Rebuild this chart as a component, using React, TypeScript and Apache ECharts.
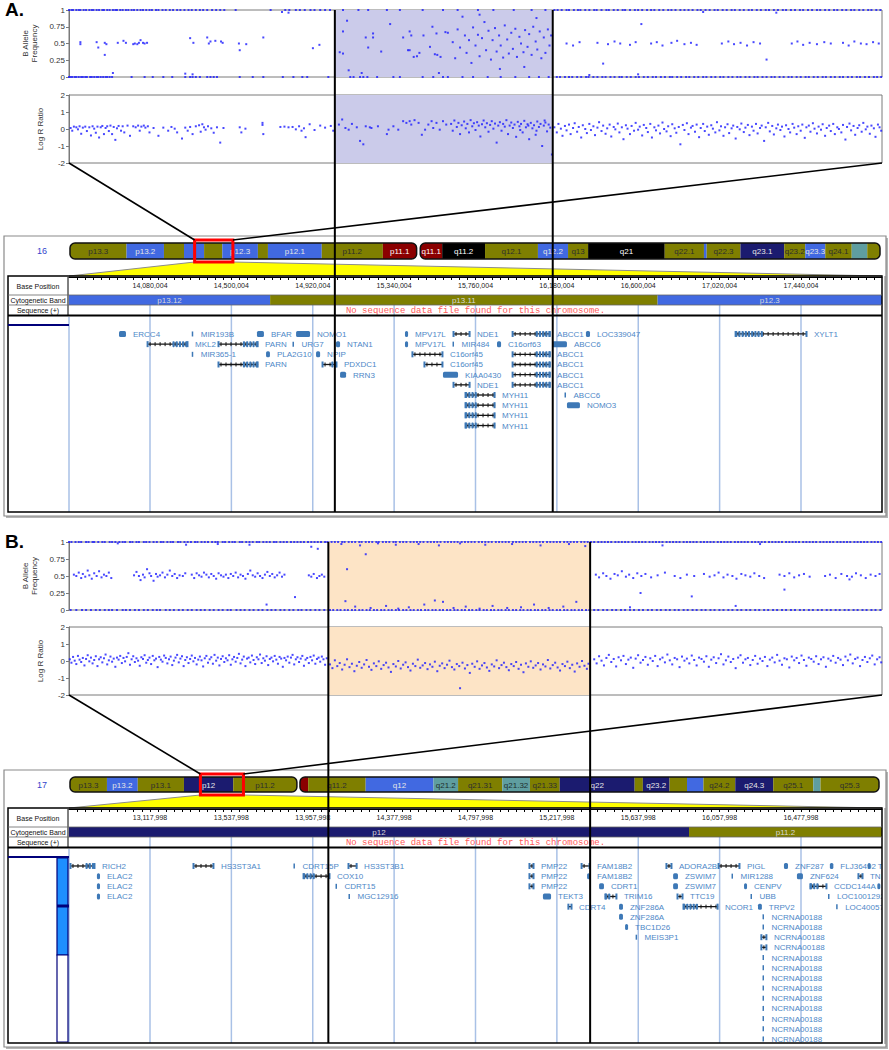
import React, { useEffect, useRef } from 'react';
import * as echarts from 'echarts';

const FONT = "'Liberation Sans', Arial, sans-serif";
const MONO = "'Liberation Mono', 'Courier New', monospace";

// ================= Panel A : chromosome 16 =================
// x positions are per-mille of the plotted window (0..1000)
const shadeA = [327, 595];
const bafA_at1 = [0,3,5,9,12,14,18,21,25,28,30,34,37,41,43,47,50,54,57,59,63,66,70,73,77,80,84,88,91,95,99,102,107,110,115,119,124,128,133,137,142,147,151,156,161,165,170,176,181,186,191,205,248,266,271,279,284,290,297,302,309,315,321,
  337,356,368,391,407,435,460,478,503,522,547,569,586,
  597,601,606,612,615,621,626,629,635,640,646,649,655,661,664,670,675,681,684,690,696,700,705,711,716,720,726,731,737,741,746,752,757,762,767,773,777,783,788,794,798,804,809,815,819,825,830,836,840,846,851,857,861,867,872,878,882,888,893,899,903,909,914,920,924,930,935,941,945,951,956,962,966,972,977,983,987,993,998];
const bafA_at0 = [0,2,4,7,9,12,15,17,20,22,26,28,31,34,36,39,42,45,47,50,53,77,93,103,116,127,143,149,152,156,161,170,174,178,182,210,226,239,263,276,287,293,319,
  346,350,358,362,367,379,399,407,435,448,460,466,484,497,515,531,549,566,578,590,
  600,604,610,615,619,625,630,636,639,645,650,656,660,666,671,677,680,686,691,697,701,707,712,718,722,728,733,739,742,748,753,759,763,769,774,780,784,790,795,801,805,811,816,822,826,832,837,843,847,853,858,864,868,874,879,885,889,895,900,906,910,916,921,927,931,937,942,948,952,958,963,969,973,979,984,990,994,999];
const bafA_other = [[14,0.52],[14,0.49],[34,0.52],[36,0.44],[44,0.51],[44,0.33],[46,0.49],[60,0.51],[67,0.54],[70,0.51],[79,0.49],[81,0.5],[84,0.49],[86,0.51],[88,0.55],[91,0.51],[93,0.5],[96,0.51],[149,0.58],[153,0.51],[170,0.59],[172,0.5],[174,0.53],[180,0.54],[187,0.53],[189,0.51],[209,0.5],[210,0.4],[218,0.49],[239,0.59],[300,0.43],[308,0.48],[54,0.06],[143,0.05],[152,0.04],[262,0.97],[270,0.96],
  [333,0.37],[337,0.35],[337,0.68],[342,0.84],[344,0.1],[360,0.06],[365,0.59],[368,0.44],[374,0.65],[374,0.59],[384,0.38],[395,0.79],[411,0.59],[417,0.4],[419,0.4],[419,0.68],[421,0.62],[424,0.3],[428,0.31],[431,0.36],[436,0.62],[444,0.45],[447,0.75],[450,0.34],[453,0.33],[452,0.65],[455,0.06],[457,0.3],[463,0.67],[466,0.66],
  [472,0.52],[475,0.28],[478,0.71],[481,0.44],[484,0.9],[487,0.62],[489,0.36],[492,0.55],[495,0.21],[497,0.74],[500,0.47],[503,0.63],[505,0.31],[508,0.58],[511,0.82],[513,0.4],[516,0.69],[519,0.26],[521,0.55],[524,0.73],[526,0.38],[529,0.62],[531,0.47],[534,0.29],[536,0.77],[539,0.56],[541,0.35],[544,0.66],[546,0.42],[549,0.72],[551,0.3],[554,0.6],[556,0.5],[559,0.37],[561,0.7],[564,0.45],[566,0.64],[569,0.33],[571,0.75],[574,0.53],[576,0.41],[579,0.68],[581,0.28],[584,0.59],[586,0.36],[589,0.71],[591,0.47],[593,0.62],[560,0.15],[530,0.12],[575,0.88],[505,0.93],
  [612,0.5],[620,0.47],[628,0.52],[650,0.51],[657,0.2],[663,0.49],[671,0.53],[678,0.5],[690,0.48],[697,0.52],[704,0.79],[716,0.5],[723,0.52],[730,0.47],[741,0.51],[748,0.54],[757,0.49],[765,0.51],[772,0.48],[803,0.5],[811,0.53],[818,0.49],[826,0.51],[834,0.47],[842,0.52],[850,0.5],[858,0.26],[889,0.5],[896,0.53],[903,0.48],[911,0.51],[920,0.49],[929,0.52],[937,0.5],[952,0.51],[959,0.47],[966,0.53],[974,0.5],[981,0.49],[989,0.52],[996,0.5],[640,0.03],[700,0.04],[780,0.97],[870,0.96]];
const lrrA = [[2,0.06],[4,-0.1],[6,0.14],[9,0.1],[11,-0.02],[13,0.16],[15,-0.28],[17,0.08],[20,0.14],[22,-0.12],[25,0.1],[27,-0.38],[29,0.16],[31,0.02],[33,-0.22],[35,0.14],[37,-0.5],[39,0.1],[41,0.18],[43,-0.3],[45,0.06],[47,0.16],[49,-0.12],[51,0.2],[53,-0.3],[55,0.12],[57,-0.64],[59,0.04],[61,0.18],[64,-0.1],[66,0.16],[68,-0.2],[72,0.2],[75,-0.4],[79,0.16],[82,0.1],[85,0.2],[87,-0.1],[89,0.14],[92,0.2],[94,0.08],[97,0.16],[99,-0.2],[104,0.06],[110,-0.4],[116,0.08],[122,-0.1],[126,0.12],[130,0.02],[133,-0.2],[139,-0.56],[143,0.08],[146,-0.1],[149,0.12],[152,-0.3],[156,0.16],[160,0.22],[162,-0.16],[164,0.28],[166,0.1],[168,-0.04],[171,0.16],[175,0.04],[178,-0.22],[182,0.1],[186,-0.8],[190,0.06],[210,0.1],[212,-0.2],[217,0.02],[238,0.24],[238,0.36],[239,-0.3],[260,0.12],[265,0.14],[270,0.1],[275,0.12],[279,-0.02],[283,0.16],[286,-0.1],[289,0.04],[291,-0.48],[296,0.28],[302,-0.06],[309,0.2],[315,0.08],[322,0.18],[325,-0.1],
  [332,0.26],[336,0.56],[340,0.06],[344,-0.04],[348,0.3],[354,0.1],[358,-0.7],[362,-0.9],[365,0.16],[370,0.1],[372,0.06],[380,0.16],[391,-0.3],[393,-0.04],[399,0.16],[405,-0.04],[411,0.46],[415,0.36],[419,0.46],[421,0.26],[425,0.52],[430,0.36],[434,-0.34],[438,-0.04],[442,0.26],[446,0.46],[448,0.06],[452,0.36],[456,-0.04],[460,0.46],[464,0.26],
  [470,0.3],[472,-0.1],[474,0.5],[477,0.12],[479,0.36],[481,-0.3],[483,0.22],[486,0.44],[488,0.04],[490,0.3],[492,-0.2],[494,0.52],[496,0.16],[498,0.34],[500,-0.06],[502,0.4],[504,0.2],[506,-0.44],[508,0.28],[510,0.5],[512,0.1],[514,0.34],[516,-0.16],[518,0.24],[520,0.46],[522,0.02],[524,0.32],[526,-0.8],[528,0.2],[530,0.4],[532,-0.1],[534,0.3],[536,0.14],[538,0.52],[540,-0.3],[542,0.2],[544,0.38],[546,0.06],[548,0.26],[550,-0.46],[552,0.42],[554,0.16],[556,0.3],[558,-0.2],[560,0.48],[562,0.1],[564,0.28],[566,-0.6],[568,0.36],[570,0.04],[572,0.22],[574,-0.34],[576,0.44],[578,0.12],[580,0.3],[582,-1.0],[584,0.2],[586,0.38],[588,-0.14],[590,0.26],[592,0.08],[594,-1.5],[585,0.5],[575,-0.1],[565,0.2],[555,-0.06],
  [597,0.1],[600,-0.2],[602,0.3],[605,0.02],[607,-0.4],[610,0.18],[612,-0.08],[615,0.26],[617,-0.3],[620,0.06],[622,0.34],[625,-0.16],[627,0.12],[630,-0.5],[632,0.22],[635,0.0],[637,-0.24],[640,0.3],[642,-0.06],[645,0.16],[647,-0.36],[650,0.08],[652,0.4],[655,-0.12],[657,0.2],[660,-0.28],[662,0.04],[665,0.26],[667,-0.44],[670,0.12],[672,-0.02],[675,0.32],[677,-0.2],[680,0.1],[682,-0.6],[685,0.22],[687,0.02],[690,-0.3],[692,0.18],[695,-0.1],[697,0.36],[700,-0.04],[702,0.14],[705,-0.38],[707,0.24],[710,0.06],[712,-0.18],[715,0.3],[717,-0.5],[720,0.1],[722,-0.08],[725,0.2],[727,-0.26],[730,0.38],[732,0.0],[735,-0.14],[737,0.16],[740,-0.42],[742,0.28],[745,0.04],[747,-0.22],[750,0.12],[752,-0.9],[755,0.24],[757,-0.06],[760,0.34],[762,-0.3],[765,0.08],[767,0.18],[770,-0.16],[772,0.26],[775,-0.48],[777,0.06],[780,0.3],[782,-0.12],[785,0.14],[787,-0.34],[790,0.22],[792,0.02],[795,-0.2],[797,0.4],[800,-0.08],[802,0.16],[805,-0.4],[807,0.1],[810,0.28],[812,-0.24],[815,0.04],[817,0.2],[820,-0.56],[822,0.12],[825,-0.02],[827,0.32],[830,-0.18],[832,0.08],[835,0.24],[837,-0.36],[840,0.14],[842,-0.1],[845,0.3],[847,-0.26],[850,0.06],[852,0.2],[855,-0.7],[857,0.1],[860,0.36],[862,-0.14],[865,0.18],[867,-0.32],[870,0.04],[872,0.26],[875,-0.06],[877,0.14],[880,-0.44],[882,0.22],[885,0.0],[887,-0.2],[890,0.3],[892,0.08],[895,-0.3],[897,0.16],[900,-0.1],[902,0.26],[905,-0.52],[907,0.1],[910,0.2],[912,-0.16],[915,0.34],[917,0.02],[920,-0.26],[922,0.14],[925,-0.04],[927,0.28],[930,-0.4],[932,0.06],[935,0.2],[937,-0.12],[940,0.3],[942,-0.3],[945,0.1],[947,0.0],[950,-0.2],[952,0.24],[955,-0.62],[957,0.12],[960,0.32],[962,-0.08],[965,0.18],[967,-0.34],[970,0.06],[972,0.22],[975,-0.16],[977,0.36],[980,-0.02],[982,0.14],[985,-0.28],[987,0.2],[990,0.04],[992,-0.46],[995,0.26],[997,0.1],[999,-0.1]];

const chr16Length = 88.8; // Mb
const chr16Centromere = [38.0, 38.4];
// [startMb, endMb, stain, name, showNameOnIdeogram]
const chr16Bands = [
  [0, 6.2, 'o', 'p13.3', 1], [6.2, 10.3, 'b', 'p13.2', 1], [10.3, 12.5, 'o', 'p13.13', 0], [12.5, 14.7, 'b', 'p13.12', 0],
  [14.7, 16.7, 'o', 'p13.11', 0], [16.7, 20.6, 'b', 'p12.3', 1], [20.6, 21.7, 'o', 'p12.2', 0], [21.7, 27.6, 'b', 'p12.1', 1],
  [27.6, 34.3, 'o', 'p11.2', 1], [34.3, 38.0, 'r', 'p11.1', 1], [38.4, 40.8, 'r', 'q11.1', 1], [40.8, 45.5, 'k', 'q11.2', 1],
  [45.5, 51.3, 'o', 'q12.1', 1], [51.3, 54.6, 'b', 'q12.2', 1], [54.6, 56.8, 'o', 'q13', 1], [56.8, 65.2, 'k', 'q21', 1],
  [65.2, 69.5, 'o', 'q22.1', 1], [69.5, 69.8, 'b', 'q22.2', 0], [69.8, 73.5, 'o', 'q22.3', 1], [73.5, 78.3, 'n', 'q23.1', 1],
  [78.3, 80.6, 'o', 'q23.2', 1], [80.6, 82.8, 'b', 'q23.3', 1], [82.8, 85.7, 'o', 'q24.1', 1], [85.7, 87.4, 't', 'q24.2', 0],
  [87.4, 88.8, 'o', 'q24.3', 0],
];
const windowA = [13661931, 17858077]; // bp
const ticksA = [14080004, 14500004, 14920004, 15340004, 15760004, 16180004, 16600004, 17020004, 17440004];
// [label, startKb, endKb, rows, glyph]
const genesA = [
  ['ERCC4', 13920, 13956, [0], 'b'], ['MIR193B', 14298, 14301, [0], 't'], ['BFAR', 14632, 14668, [0], 'b'], ['NOMO1', 14834, 14906, [0], 'b'],
  ['MKL2', 14065, 14276, [1], 'R'], ['PARN', 14431, 14638, [1, 3], 'R'], ['URG7', 14818, 14822, [1], 't'], ['NTAN1', 15040, 15061, [1], 'b'],
  ['MIR365-1', 14298, 14301, [2], 't'], ['PLA2G10', 14679, 14699, [2], 'b'], ['NPIP', 14937, 14958, [2], 'b'], ['PDXDC1', 14968, 15045, [3], 'R'],
  ['RRN3', 15061, 15092, [4], 'b'], ['MPV17L', 15396, 15412, [0, 1], 'b'], ['C16orf45', 15432, 15592, [2], 'l'], ['C16orf45', 15494, 15592, [3], 'l'],
  ['KIAA0430', 15592, 15670, [4], 'b'], ['NDE1', 15644, 15732, [0, 5], 'l'], ['MIR484', 15644, 15648, [1], 't'], ['C16orf63', 15871, 15892, [1], 'b'],
  ['ABCC1', 15949, 16145, [0, 2, 3, 4, 5], 'R'], ['LOC339047', 16330, 16351, [0], 'b'], ['ABCC6', 16155, 16232, [1], 'b'],
  ['MYH11', 15706, 15861, [6, 7, 8, 9], 'L'], ['ABCC6', 16222, 16226, [6], 't'], ['NOMO3', 16232, 16299, [7], 'b'], ['XYLT1', 17100, 17471, [0], 'L'],
];

// ================= Panel B : chromosome 17 =================
const shadeB = [319, 641];
const bafB_at1 = [0,3,8,12,15,21,24,29,31,36,41,44,50,53,57,62,66,69,75,78,83,86,92,95,99,104,108,113,116,121,125,128,134,137,142,146,150,155,158,163,167,171,176,180,183,189,192,197,201,204,210,213,218,222,226,231,234,239,243,247,252,255,260,264,268,273,277,281,285,289,294,298,302,306,310,315,318,323,327,331,336,339,344,348,352,357,360,365,369,373,378,381,386,390,394,399,402,407,411,415,420,424,428,432,436,441,445,449,453,457,462,466,470,474,478,483,487,491,495,499,504,508,512,516,520,525,529,533,537,541,546,550,554,558,562,567,571,575,579,583,588,592,596,600,604,609,613,617,621,625,630,634,638,642,646,651,655,659,663,667,672,676,680,684,688,693,697,701,705,709,714,718,722,726,730,735,739,743,747,751,756,760,764,768,772,777,781,785,789,793,798,802,806,810,814,819,823,827,831,835,840,844,848,852,856,861,865,869,873,877,882,886,890,894,898,903,907,911,915,919,924,928,932,936,940,945,949,953,957,961,966,970,974,978,982,987,991,995,999];
const bafB_at0 = [2,9,16,21,27,33,38,44,49,53,59,66,70,75,81,86,92,97,103,108,112,119,124,129,135,140,146,151,157,162,167,173,178,184,189,195,199,206,211,216,222,227,233,238,244,249,254,260,265,271,276,282,286,292,297,303,308,314,
  321,325,330,334,339,343,348,352,357,361,366,370,375,379,384,388,393,397,402,406,411,415,420,424,429,433,438,442,447,451,456,460,465,469,474,478,483,487,492,496,501,505,510,514,519,523,528,532,537,541,546,550,555,559,564,568,573,577,582,586,591,595,600,604,609,613,618,622,627,631,636,640,
  646,651,657,662,668,673,679,684,690,695,701,706,712,717,723,728,734,739,745,750,756,761,767,772,778,783,789,794,800,805,811,816,822,827,833,838,844,849,855,860,866,871,877,882,888,893,899,904,910,915,921,926,932,937,943,948,954,959,965,970,976,981,987,992,998];
const bafB_other = [[6,0.52],[9,0.5],[12,0.55],[15,0.47],[17,0.53],[20,0.49],[23,0.58],[25,0.51],[28,0.46],[31,0.54],[34,0.5],[37,0.57],[40,0.48],[43,0.52],[46,0.5],[49,0.55],[52,0.47],
  [80,0.51],[83,0.56],[86,0.5],[88,0.44],[91,0.52],[93,0.48],[96,0.6],[99,0.54],[101,0.5],[104,0.43],[107,0.53],[109,0.49],[112,0.51],[115,0.55],[118,0.48],[121,0.52],[124,0.58],[127,0.5],[130,0.53],[133,0.47],[136,0.51],[140,0.5],[143,0.54],
  [151,0.52],[154,0.47],[157,0.54],[160,0.51],[163,0.49],[166,0.55],[169,0.52],[172,0.48],[175,0.53],[178,0.5],[181,0.46],[184,0.54],[187,0.51],[190,0.49],[193,0.52],[196,0.47],[199,0.53],[202,0.5],[205,0.55],[208,0.48],[211,0.52],[214,0.5],[217,0.46],[220,0.53],[223,0.58],[226,0.51],[229,0.49],[232,0.54],[235,0.5],[238,0.47],[241,0.52],[244,0.56],[247,0.5],[250,0.53],[253,0.48],[256,0.51],[259,0.55],[262,0.49],[265,0.52],
  [295,0.51],[298,0.49],[301,0.53],[305,0.47],[308,0.5],[311,0.52],[314,0.49],
  [278,0.19],[243,0.08],[298,0.93],[306,0.9],[144,0.96],[60,0.98],[183,0.97],[222,0.96],
  [342,0.6],[340,0.13],[365,0.82],[352,0.05],[371,0.03],[390,0.06],[405,0.02],[418,0.04],[437,0.08],[450,0.14],[460,0.12],[473,0.03],[488,0.05],[505,0.02],[521,0.06],[539,0.03],[556,0.04],[572,0.08],[590,0.03],[608,0.05],[624,0.12],[335,0.97],[358,0.95],[380,0.98],[402,0.96],[430,0.97],[455,0.95],[481,0.98],[512,0.96],[545,0.97],[580,0.95],[615,0.97],[635,0.94],
  [648,0.52],[652,0.48],[657,0.54],[661,0.5],[666,0.46],[671,0.53],[675,0.51],[680,0.57],[685,0.49],[689,0.52],[694,0.47],[699,0.54],[704,0.5],[709,0.53],[716,0.48],[724,0.51],[733,0.55],[745,0.5],[752,0.47],[760,0.52],[769,0.5],[781,0.53],[788,0.49],[794,0.51],[799,0.55],[805,0.48],[810,0.52],[816,0.5],[821,0.46],[827,0.53],[832,0.51],[838,0.49],[843,0.54],[849,0.5],[855,0.47],[874,0.52],[880,0.5],[886,0.54],[892,0.48],[898,0.51],[904,0.53],[911,0.49],[930,0.5],[936,0.52],[943,0.47],[950,0.53],[957,0.5],[963,0.49],[968,0.54],[974,0.51],[980,0.47],[986,0.52],[992,0.5],[997,0.53],
  [703,0.25],[766,0.2],[880,0.3],[960,0.45],[730,0.95],[850,0.97],[690,0.04],[820,0.06]];
const lrrB = [[1,0.1],[3,-0.1],[5,0.24],[7,0.02],[9,-0.18],[11,0.3],[13,0.08],[15,-0.06],[17,0.18],[19,-0.26],[21,0.12],[23,0.34],[25,-0.02],[27,0.2],[29,-0.14],[31,0.06],[33,0.28],[35,-0.3],[37,0.1],[39,0.22],[41,-0.08],[43,0.16],[45,0.38],[47,-0.2],[49,0.04],[51,0.26],[53,-0.04],[55,0.14],[57,-0.34],[59,0.2],[61,0.08],[63,0.3],[65,-0.12],[67,0.18],[69,-0.02],[71,0.24],[73,0.46],[75,-0.22],[77,0.1],[79,0.28],[81,-0.06],[83,0.16],[85,0.02],[87,-0.28],[89,0.22],[91,0.12],[93,0.34],[95,-0.1],[97,0.06],[99,0.2],[101,-0.18],[103,0.3],[105,0.04],[107,0.14],[109,-0.36],[111,0.24],[113,0.08],[115,-0.04],[117,0.32],[119,0.18],[121,-0.14],[123,0.1],[125,0.26],[127,-0.24],[129,0.02],[131,0.2],[133,0.36],[135,-0.08],[137,0.14],[139,0.28],[141,-0.3],[143,0.06],[145,0.22],[147,-0.12],[149,0.12],[151,0.32],[153,-0.02],[155,0.18],[157,-0.2],[159,0.08],[161,0.26],[163,0.04],[165,-0.32],[167,0.16],[169,0.3],[171,-0.1],[173,0.1],[175,0.22],[177,-0.16],[179,0.36],[181,0.02],[183,0.2],[185,-0.26],[187,0.12],[189,0.28],[191,-0.06],[193,0.16],[195,0.04],[197,0.34],[199,-0.22],[201,0.1],[203,0.24],[205,-0.04],[207,0.18],[209,0.42],[211,-0.14],[213,0.08],[215,0.26],[217,-0.3],[219,0.14],[221,0.2],[223,-0.08],[225,0.32],[227,0.06],[229,-0.18],[231,0.22],[233,0.1],[235,0.38],[237,-0.12],[239,0.16],[241,0.02],[243,0.28],[245,-0.24],[247,0.12],[249,0.2],[251,-0.02],[253,0.3],[255,0.08],[257,-0.16],[259,0.24],[261,0.14],[263,-0.34],[265,0.18],[267,0.04],[269,0.26],[271,-0.1],[273,0.2],[275,0.36],[277,-0.2],[279,0.1],[281,0.22],[283,-0.06],[285,0.14],[287,0.3],[289,-0.28],[291,0.08],[293,0.18],[295,-0.12],[297,0.24],[299,0.04],[301,0.32],[303,-0.16],[305,0.12],[307,0.2],[309,-0.04],[311,0.26],[313,0.1],[315,-0.22],[317,0.16],
  [321,-0.2],[324,-0.42],[327,0.04],[330,-0.3],[333,-0.12],[336,-0.5],[339,-0.22],[342,0.1],[345,-0.36],[348,-0.16],[351,-0.6],[354,-0.28],[357,-0.06],[360,-0.4],[363,-0.2],[366,0.06],[369,-0.34],[372,-0.52],[375,-0.14],[378,-0.3],[381,-0.02],[384,-0.46],[387,-0.24],[390,-0.1],[393,-0.38],[396,-0.64],[399,-0.18],[402,-0.32],[405,0.0],[408,-0.44],[411,-0.22],[414,-0.08],[417,-0.36],[420,-0.56],[423,-0.16],[426,-0.3],[429,0.08],[432,-0.4],[435,-0.26],[438,-0.12],[441,-0.48],[444,-0.2],[447,-0.34],[450,-0.04],[453,-0.6],[456,-0.28],[459,-0.14],[462,-0.42],[465,-0.22],[468,0.02],[471,-0.36],[474,-0.5],[477,-0.18],[480,-0.3],[481,-1.6],[484,-0.1],[487,-0.44],[490,-0.24],[493,-0.7],[496,-0.16],[499,-0.34],[502,-0.02],[505,-0.46],[508,-0.26],[511,-0.12],[514,-0.38],[517,-0.58],[520,-0.2],[523,-0.32],[526,0.04],[529,-0.42],[532,-0.24],[535,-0.1],[538,-0.36],[541,-0.54],[544,-0.18],[547,-0.3],[550,-0.06],[553,-0.46],[556,-0.22],[559,-0.66],[562,-0.14],[565,-0.34],[568,-0.02],[571,-0.4],[574,-0.26],[577,-0.12],[580,-0.5],[583,-0.2],[586,-0.32],[589,0.06],[592,-0.44],[595,-0.24],[598,-0.1],[601,-0.38],[604,-0.56],[607,-0.18],[610,-0.3],[613,-0.04],[616,-0.42],[619,-0.22],[622,-0.62],[625,-0.14],[628,-0.34],[631,0.0],[634,-0.28],[637,-0.46],[639,-0.16],
  [646,0.1],[649,-0.14],[652,0.28],[655,0.02],[658,-0.26],[661,0.18],[664,0.36],[667,-0.06],[670,0.12],[673,-0.32],[676,0.22],[679,0.04],[682,0.3],[685,-0.18],[688,0.08],[691,0.2],[694,-0.4],[697,0.14],[700,0.34],[703,-0.1],[706,0.06],[709,0.24],[712,-0.22],[715,0.16],[718,0.0],[721,0.3],[724,-0.3],[727,0.1],[730,0.2],[733,-0.08],[736,0.38],[739,0.04],[742,-0.2],[745,0.18],[748,0.1],[751,-0.36],[754,0.26],[757,0.02],[760,0.14],[763,-0.14],[766,0.32],[769,0.06],[772,-0.26],[775,0.2],[778,0.12],[781,-0.04],[784,0.28],[787,-0.34],[790,0.08],[793,0.22],[796,-0.12],[799,0.16],[802,0.4],[805,-0.2],[808,0.04],[811,0.26],[814,-0.06],[817,0.12],[820,-0.42],[823,0.2],[826,0.34],[829,-0.1],[832,0.1],[835,0.18],[838,-0.24],[841,0.06],[844,0.3],[847,-0.16],[850,0.14],[853,0.0],[856,0.24],[859,-0.3],[862,0.08],[865,0.2],[868,-0.08],[871,0.36],[874,0.02],[877,-0.22],[880,0.16],[883,0.1],[886,-0.38],[889,0.26],[892,0.04],[895,0.18],[898,-0.12],[901,0.32],[904,0.06],[907,-0.28],[910,0.2],[913,0.12],[916,-0.04],[919,0.28],[922,-0.18],[925,0.1],[928,0.22],[931,-0.34],[934,0.14],[937,0.02],[940,0.3],[943,-0.1],[946,0.18],[949,0.08],[952,-0.24],[955,0.26],[958,0.04],[961,0.38],[964,-0.14],[967,0.12],[970,0.2],[973,-0.3],[976,0.06],[979,0.24],[982,-0.06],[985,0.16],[988,0.32],[991,-0.2],[994,0.1],[997,0.22],[999,-0.08]];

const chr17Length = 78.8;
const chr17Centromere = [22.1, 22.4];
const chr17Bands = [
  [0, 3.6, 'o', 'p13.3', 1], [3.6, 6.6, 'b', 'p13.2', 1], [6.6, 11.1, 'o', 'p13.1', 1], [11.1, 15.9, 'n', 'p12', 1],
  [15.9, 22.1, 'o', 'p11.2', 1], [22.4, 23.2, 'r', 'q11.1', 0], [23.2, 28.8, 'o', 'q11.2', 1], [28.8, 35.4, 'b', 'q12', 1],
  [35.4, 37.8, 't', 'q21.2', 1], [37.8, 42.1, 'o', 'q21.31', 1], [42.1, 44.8, 't', 'q21.32', 1], [44.8, 47.7, 'o', 'q21.33', 1],
  [47.7, 55.0, 'n', 'q22', 1], [55.0, 55.8, 'o', 'q23.1', 0], [55.8, 58.4, 'n', 'q23.2', 1], [58.4, 60.1, 'o', 'q23.3', 0],
  [60.1, 61.7, 'b', 'q24.1', 0], [61.7, 64.8, 'o', 'q24.2', 1], [64.8, 68.5, 'n', 'q24.3', 1], [68.5, 72.4, 'o', 'q25.1', 1],
  [72.4, 73.1, 't', 'q25.2', 0], [73.1, 78.8, 'o', 'q25.3', 1],
];
const windowB = [12699930, 16896070];
const ticksB = [13117998, 13537998, 13957998, 14377998, 14797998, 15217998, 15637998, 16057998, 16477998];
const genesB = [
  ['RICH2', 12705, 12834, [0], 'R'], ['ELAC2', 12844, 12860, [1, 2, 3], 'b'], ['HS3ST3A1', 13340, 13448, [0], 'l'],
  ['CDRT15P', 13861, 13866, [0], 't'], ['HS3ST3B1', 14140, 14187, [0], 'l'], ['COX10', 13908, 14047, [1], 'L'],
  ['CDRT15', 14078, 14082, [2], 't'], ['MGC12916', 14145, 14149, [3], 't'], ['PMP22', 15074, 15100, [0, 1, 2], 'l'],
  ['TEKT3', 15146, 15188, [3], 'b'], ['CDRT4', 15275, 15296, [4], 'l'], ['FAM18B2', 15343, 15389, [0], 'l'],
  ['FAM18B2', 15374, 15389, [1], 'b'], ['CDRT1', 15436, 15461, [2], 'b'], ['TRIM16', 15466, 15528, [3], 'L'],
  ['ZNF286A', 15539, 15559, [4, 5], 'b'], ['TBC1D26', 15570, 15582, [6], 'b'], ['MEIS3P1', 15627, 15631, [7], 't'],
  ['ADORA2B', 15781, 15812, [0], 'l'], ['ZSWIM7', 15818, 15843, [1, 2], 'b'], ['TTC19', 15838, 15869, [3], 'l'],
  ['NCOR1', 15869, 16050, [4], 'L'], ['PIGL', 16050, 16163, [0], 'l'], ['MIR1288', 16122, 16126, [1], 't'],
  ['CENPV', 16184, 16194, [2], 'b'], ['UBB', 16220, 16224, [3], 't'], ['TRPV2', 16256, 16276, [4], 'b'],
  ['NCRNA00188', 16282, 16286, [5, 6, 9, 10, 11, 12, 13, 14, 15, 16, 17], 't'], ['NCRNA00188', 16271, 16302, [7, 8], 'l'],
  ['ZNF287', 16390, 16411, [0], 'b'], ['ZNF624', 16457, 16488, [1], 'b'], ['CCDC144A', 16524, 16612, [2], 'L'],
  ['LOC1001292', 16620, 16624, [3], 't'], ['LOC40057', 16662, 16666, [4], 't'], ['FLJ36492', 16627, 16645, [0], 'b'],
  ['TN', 16772, 16798, [1], 'l'], ['TI', 16822, 16828, [0], 'b'], ['', 16872, 16880, [2], 'b'],
];

// ================= styling =================
const BAND_FILL: any = { o: '#7f7f00', b: '#4169e1', n: '#1b1b6f', k: '#000000', r: '#8b0000', t: '#5f9ea0' };
const BAND_TEXT: any = { o: '#2e2e2e', t: '#1e2e2e', b: '#e6e6e6', n: '#e6e6e6', k: '#ffffff', r: '#ffffff' };
const DOT = '#1a1aff';
const GENE_BLUE = '#3d78b6';
const GENE_TEXT = '#4d87c7';
const TRACK_YMIN = -5.6;

function fmtBp(v: number) {
  return String(Math.round(v)).replace(/\B(?=(\d{3})+(?!\d))/g, ',');
}
function minorTicks(win: number[], majors: number[]) {
  const step = (majors[1] - majors[0]) / 10;
  const out: number[] = [];
  for (let v = majors[0] - 10 * step; v <= win[1]; v += step) if (v >= win[0]) out.push(v);
  return out;
}

function scatterSeries(xi: number, pts: any[], shade: number[], shadeColor: string) {
  return {
    type: 'scatter', xAxisIndex: xi, yAxisIndex: xi, symbol: 'rect', symbolSize: 2, clip: false, silent: true,
    itemStyle: { color: DOT }, data: pts, z: 3,
    markArea: { silent: true, itemStyle: { color: shadeColor, opacity: 1 }, data: [[{ xAxis: shade[0] }, { xAxis: shade[1] }]] },
  };
}

function ideogramSeries(i: number, bands: any[], cen: number[], len: number, win: number[]) {
  return [
    {
      type: 'custom', xAxisIndex: i, yAxisIndex: i, silent: true, z: 3,
      data: bands.map((b) => [b[0], 0.5]),
      renderItem: (params: any, api: any) => {
        const b = bands[params.dataIndex];
        const p0 = api.coord([b[0], 1]);
        const p1 = api.coord([b[1], 0]);
        const x = p0[0], y = p0[1], w = p1[0] - p0[0], h = p1[1] - p0[1];
        const R = 5;
        const lr = b[0] === 0 || b[0] === cen[1] ? R : 0;
        const rr = b[1] === len || b[1] === cen[0] ? R : 0;
        const kids: any[] = [{ type: 'rect', shape: { x, y, width: w, height: h, r: [lr, rr, rr, lr] }, style: { fill: BAND_FILL[b[2]] } }];
        if (b[4]) kids.push({ type: 'text', style: { text: b[3], x: x + w / 2, y: y + h / 2 + 0.5, align: 'center', verticalAlign: 'middle', textAlign: 'center', textVerticalAlign: 'middle', fill: BAND_TEXT[b[2]], font: `8px ${FONT}` } });
        return { type: 'group', children: kids };
      },
    },
    {
      type: 'custom', xAxisIndex: i, yAxisIndex: i, silent: true, z: 4,
      data: [[0, 0.5], [cen[1], 0.5]],
      renderItem: (params: any, api: any) => {
        const a = params.dataIndex === 0 ? [0, cen[0]] : [cen[1], len];
        const p0 = api.coord([a[0], 1]);
        const p1 = api.coord([a[1], 0]);
        return { type: 'rect', shape: { x: p0[0], y: p0[1], width: p1[0] - p0[0], height: p1[1] - p0[1], r: 5 }, style: { fill: 'none', stroke: '#111', lineWidth: 1.5 } };
      },
    },
    {
      type: 'custom', xAxisIndex: i, yAxisIndex: i, silent: true, z: 5,
      data: [[win[0] / 1e6, 0.5]],
      renderItem: (params: any, api: any) => {
        const p0 = api.coord([win[0] / 1e6, 1]);
        const p1 = api.coord([win[1] / 1e6, 0]);
        return { type: 'rect', shape: { x: p0[0], y: p0[1] - 3, width: p1[0] - p0[0], height: p1[1] - p0[1] + 6 }, style: { fill: 'none', stroke: '#ff0000', lineWidth: 3 } };
      },
    },
  ];
}

function trackSeries(i: number, bands: any[], win: number[], ticks: number[], genes: any[]) {
  const vis = bands
    .filter((b) => b[1] * 1e6 > win[0] && b[0] * 1e6 < win[1])
    .map((b) => [Math.max(b[0] * 1e6, win[0]), Math.min(b[1] * 1e6, win[1]), b[2], b[3]]);
  const flat: any[] = [];
  genes.forEach((g) => g[3].forEach((r: number) => flat.push([g[1] * 1000, g[2] * 1000, r, g[0], g[4]])));
  return [
    {
      type: 'custom', xAxisIndex: i, yAxisIndex: i, silent: true, z: 3,
      data: vis.map((v) => [v[0], 0]),
      renderItem: (params: any, api: any) => {
        const v = vis[params.dataIndex];
        const cs = params.coordSys;
        const x1 = api.coord([v[0], 0])[0];
        const x2 = api.coord([v[1], 0])[0];
        const y = cs.y + 18;
        return {
          type: 'group', children: [
            { type: 'rect', shape: { x: x1, y, width: x2 - x1, height: 10 }, style: { fill: BAND_FILL[v[2]] } },
            { type: 'text', style: { text: v[3], x: (x1 + x2) / 2, y: y + 5.5, align: 'center', verticalAlign: 'middle', textAlign: 'center', textVerticalAlign: 'middle', fill: '#d8d8d8', font: `8px ${FONT}` } },
          ],
        };
      },
    },
    {
      type: 'custom', xAxisIndex: i, yAxisIndex: i, silent: true, z: 2,
      data: ticks.map((t) => [t, 0]),
      renderItem: (params: any, api: any) => {
        const cs = params.coordSys;
        const x = api.coord([ticks[params.dataIndex], 0])[0];
        return { type: 'line', shape: { x1: x, y1: cs.y + 28, x2: x, y2: cs.y + cs.height }, style: { stroke: '#a9c1e6', lineWidth: 1.5 } };
      },
    },
    {
      type: 'custom', xAxisIndex: i, yAxisIndex: i, silent: true, clip: true, z: 6,
      data: flat.map((f) => [f[0], f[2]]),
      renderItem: (params: any, api: any) => {
        const f = flat[params.dataIndex];
        const a = api.coord([f[0], f[2]]);
        const b = api.coord([f[1], f[2]]);
        const y = a[1];
        const x1 = a[0];
        let x2 = Math.max(b[0], x1 + 1.5);
        const kind = f[4];
        const kids: any[] = [];
        if (kind === 't') {
          kids.push({ type: 'rect', shape: { x: x1 - 0.5, y: y - 2.5, width: 1.5, height: 5 }, style: { fill: GENE_BLUE } });
        } else if (kind === 'b') {
          x2 = Math.max(x2, x1 + 3);
          kids.push({ type: 'rect', shape: { x: x1, y: y - 3, width: x2 - x1, height: 6, r: 1.5 }, style: { fill: GENE_BLUE } });
        } else {
          const w = x2 - x1;
          kids.push({ type: 'line', shape: { x1, y1: y, x2, y2: y }, style: { stroke: '#151515', lineWidth: 1.3 } });
          for (let x = x1 + 3; x < x2 - 2; x += 5) kids.push({ type: 'line', shape: { x1: x, y1: y - 2, x2: x, y2: y + 2 }, style: { stroke: '#151515', lineWidth: 1 } });
          kids.push({ type: 'rect', shape: { x: x1 - 0.5, y: y - 3, width: 2, height: 6 }, style: { fill: GENE_BLUE } });
          kids.push({ type: 'rect', shape: { x: x2 - 1.5, y: y - 3, width: 2, height: 6 }, style: { fill: GENE_BLUE } });
          if (kind === 'R') for (let x = x2 - w * 0.38; x < x2 - 1; x += 3.2) kids.push({ type: 'rect', shape: { x, y: y - 3, width: 2.2, height: 6, r: 0.8 }, style: { fill: GENE_BLUE } });
          if (kind === 'L') for (let x = x1; x < x1 + w * 0.4; x += 3.2) kids.push({ type: 'rect', shape: { x, y: y - 3, width: 2.2, height: 6, r: 0.8 }, style: { fill: GENE_BLUE } });
        }
        if (f[3]) kids.push({ type: 'text', style: { text: f[3], x: x2 + 7, y: y + 0.5, align: 'left', verticalAlign: 'middle', textAlign: 'left', textVerticalAlign: 'middle', fill: GENE_TEXT, font: `8px ${FONT}` } });
        return { type: 'group', children: kids };
      },
    },
  ];
}

function buildOption() {
  const scatterGrid = (top: number, height: number) => ({ left: 69, top, width: 813, height, show: true, borderColor: '#7a7a7a', borderWidth: 1 });
  const plotX = (gi: number) => ({ type: 'value', gridIndex: gi, min: 0, max: 1000, show: false });
  const ideoX = (gi: number, len: number) => ({ type: 'value', gridIndex: gi, min: 0, max: len, show: false });
  const trackX = (gi: number, win: number[], ticks: number[]) => ({
    type: 'value', gridIndex: gi, min: win[0], max: win[1], position: 'top', z: 30,
    axisLine: { show: true, onZero: false, lineStyle: { color: '#000', width: 1 } },
    axisTick: { show: true, inside: true, length: 3, customValues: minorTicks(win, ticks), lineStyle: { color: '#000', width: 1 } },
    axisLabel: { show: true, inside: true, customValues: ticks, formatter: (v: number) => fmtBp(v), fontSize: 7, color: '#222', margin: 5, fontFamily: FONT },
    splitLine: { show: false },
  });
  const axisNameStyle = { fontSize: 8, lineHeight: 9, color: '#333', fontFamily: FONT };
  const bafY = (gi: number) => ({
    type: 'value', gridIndex: gi, min: 0, max: 1, interval: 0.25, name: 'B Allele\nFrequency', nameLocation: 'middle', nameGap: 20, nameRotate: 90,
    nameTextStyle: axisNameStyle, axisLine: { show: true, lineStyle: { color: '#7a7a7a' } }, axisTick: { show: true, length: 3, lineStyle: { color: '#7a7a7a' } },
    axisLabel: { fontSize: 8, color: '#333', margin: 4, fontFamily: FONT }, splitLine: { show: false },
  });
  const lrrY = (gi: number) => ({
    type: 'value', gridIndex: gi, min: -2, max: 2, interval: 1, name: 'Log R Ratio', nameLocation: 'middle', nameGap: 24, nameRotate: 90,
    nameTextStyle: axisNameStyle, axisLine: { show: true, lineStyle: { color: '#7a7a7a' } }, axisTick: { show: true, length: 3, lineStyle: { color: '#7a7a7a' } },
    axisLabel: { fontSize: 8, color: '#333', margin: 4, fontFamily: FONT }, splitLine: { show: false },
  });
  const hiddenY = (gi: number, min: number, max: number, inverse = false) => ({ type: 'value', gridIndex: gi, min, max, inverse, show: false });

  return {
    animation: false,
    backgroundColor: '#ffffff',
    textStyle: { fontFamily: FONT },
    grid: [
      scatterGrid(10, 67), scatterGrid(95, 68),
      { left: 70, top: 243, width: 810, height: 16 },
      { left: 69, top: 277, width: 813, height: 235 },
      scatterGrid(542, 68), scatterGrid(627, 68),
      { left: 70, top: 777, width: 809, height: 15 },
      { left: 69, top: 809, width: 813, height: 234 },
    ],
    xAxis: [plotX(0), plotX(1), ideoX(2, chr16Length), trackX(3, windowA, ticksA), plotX(4), plotX(5), ideoX(6, chr17Length), trackX(7, windowB, ticksB)],
    yAxis: [bafY(0), lrrY(1), hiddenY(2, 0, 1), hiddenY(3, TRACK_YMIN, 17.5, true), bafY(4), lrrY(5), hiddenY(6, 0, 1), hiddenY(7, TRACK_YMIN, 17.4, true)],
    series: [
      scatterSeries(0, [...bafA_at1.map((x) => [x, 1]), ...bafA_at0.map((x) => [x, 0]), ...bafA_other], shadeA, '#cbcbea'),
      scatterSeries(1, lrrA, shadeA, '#cbcbea'),
      ...ideogramSeries(2, chr16Bands, chr16Centromere, chr16Length, windowA),
      ...trackSeries(3, chr16Bands, windowA, ticksA, genesA),
      scatterSeries(4, [...bafB_at1.map((x) => [x, 1]), ...bafB_at0.map((x) => [x, 0]), ...bafB_other], shadeB, '#fde4c6'),
      scatterSeries(5, lrrB, shadeB, '#fde4c6'),
      ...ideogramSeries(6, chr17Bands, chr17Centromere, chr17Length, windowB),
      ...trackSeries(7, chr17Bands, windowB, ticksB, genesB),
    ],
  };
}

function buildGraphic(chart: any) {
  const cx = (xi: number, v: number) => chart.convertToPixel({ xAxisIndex: xi }, v) as number;
  const cy = (yi: number, v: number) => chart.convertToPixel({ yAxisIndex: yi }, v) as number;
  const els: any[] = [];
  const txt = (x: number, y: number, text: string, font: string, fill: string, align = 'center', z = 20) =>
    els.push({ type: 'text', x, y, z, silent: true, style: { text, font, fill, align, verticalAlign: 'middle', textAlign: align, textVerticalAlign: 'middle' } });
  const line = (x1: number, y1: number, x2: number, y2: number, stroke: string, lineWidth: number, z = 20) =>
    els.push({ type: 'line', z, silent: true, shape: { x1, y1, x2, y2 }, style: { stroke, lineWidth } });

  const panel = (b: number, win: number[], shade: number[], yMax: number, chrom: string, letter: string, isB: boolean) => {
    const baf = b, lrr = b + 1, ideo = b + 2, tr = b + 3;
    const plotL = cx(lrr, 0), plotR = cx(lrr, 1000), lrrBot = cy(lrr, -2), bafTop = cy(baf, 1);
    const ideoTop = cy(ideo, 1), ideoBot = cy(ideo, 0);
    const rbL = cx(ideo, win[0] / 1e6), rbR = cx(ideo, win[1] / 1e6), rbTop = ideoTop - 3, rbBot = ideoBot + 3;
    const trTop = cy(tr, TRACK_YMIN), trBot = cy(tr, yMax), trL = cx(tr, win[0]), trR = cx(tr, win[1]);
    const s1 = cx(baf, shade[0]), s2 = cx(baf, shade[1]);

    txt(5, bafTop - 1, letter, `bold 19px ${FONT}`, '#000', 'left');
    // outer frame of the chromosome panel (with a soft shadow)
    els.push({ type: 'rect', z: 0, silent: true, shape: { x: 6, y: rbTop - 2, width: 882, height: trBot - rbTop + 8 }, style: { fill: '#b5b5b5' } });
    els.push({ type: 'rect', z: 0, silent: true, shape: { x: 4, y: rbTop - 4, width: 882, height: trBot - rbTop + 8 }, style: { fill: '#ffffff', stroke: '#8a8a8a', lineWidth: 1.2 } });
    txt(42, (ideoTop + ideoBot) / 2, chrom, `9px ${FONT}`, '#3344cc');
    // connectors from plots to red box
    line(plotL, lrrBot, rbL, rbTop, '#000', 1.6, 30);
    line(plotR, lrrBot, rbR, rbTop, '#000', 1.6, 30);
    // yellow zoom trapezoid
    els.push({ type: 'polygon', z: 1, silent: true, shape: { points: [[rbL, rbBot], [rbR, rbBot], [trR, trTop - 1], [trL, trTop - 1]] }, style: { fill: '#ffff00', stroke: '#8c8c8c', lineWidth: 1 } });
    // track frame and rows
    els.push({ type: 'rect', z: 25, silent: true, shape: { x: 8, y: trTop - 1, width: trR - 8, height: trBot - trTop + 1 }, style: { fill: 'none', stroke: '#000', lineWidth: 1.5 } });
    line(trR + 3, trTop - 1, trR + 3, trBot + 1, '#777', 1, 25);
    line(trL - 1, trTop, trL - 1, trTop + 39, '#000', 1, 25);
    line(8, trTop + 18, trR, trTop + 18, '#666', 0.8, 25);
    line(8, trTop + 28, trR, trTop + 28, '#666', 0.8, 25);
    line(8, trTop + 38.5, trR, trTop + 38.5, '#000', 2, 25);
    txt(38, trTop + 9, 'Base Position', `7px ${FONT}`, '#111');
    txt(38, trTop + 23, 'Cytogenetic Band', `7px ${FONT}`, '#111');
    txt(38, trTop + 33.5, 'Sequence (+)', `7px ${FONT}`, '#111');
    txt((trL + trR) / 2, trTop + 33.5, 'No sequence data file found for this chromosome.', `9px ${MONO}`, '#ff5a5a');
    line(8, trTop + 48, trL, trTop + 48, '#00007a', 2, 25);
    line(trL, trTop + 40, trL, trBot, '#a9c1e6', 1.5, 2);
    if (isB) {
      els.push({ type: 'rect', z: 24, silent: true, shape: { x: 57, y: trTop + 49, width: 11, height: 97 }, style: { fill: '#1e8fff', stroke: '#00007a', lineWidth: 1.2 } });
      line(57, trTop + 97, trL, trTop + 97, '#00007a', 3, 25);
      els.push({ type: 'rect', z: 24, silent: true, shape: { x: 57, y: trTop + 146, width: 11, height: trBot - trTop - 147 }, style: { fill: '#ffffff', stroke: '#00007a', lineWidth: 1.2 } });
    }
    // vertical boundary lines of the highlighted region
    line(s1, bafTop, s1, trBot, '#000', 2, 40);
    line(s2, bafTop, s2, trBot, '#000', 2, 40);
  };
  panel(0, windowA, shadeA, 17.5, '16', 'A.', false);
  panel(4, windowB, shadeB, 17.4, '17', 'B.', true);
  return els;
}

export default function App() {
  const ref = useRef<HTMLDivElement>(null);
  useEffect(() => {
    document.body.style.margin = '0';
    const chart = echarts.init(ref.current as HTMLDivElement, null, { renderer: 'svg', width: 889, height: 1050 });
    chart.setOption(buildOption() as any);
    chart.setOption({ graphic: buildGraphic(chart) } as any);
    return () => chart.dispose();
  }, []);
  return <div ref={ref} style={{ width: 889, height: 1050 }} />;
}
